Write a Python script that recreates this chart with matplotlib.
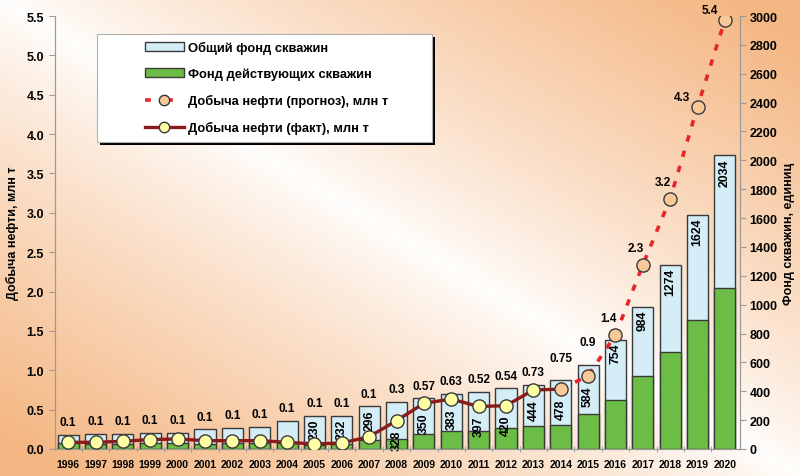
import numpy as np
import matplotlib
matplotlib.use("Agg")
import matplotlib.pyplot as plt
from matplotlib.lines import Line2D
from matplotlib.patches import Patch, Rectangle

plt.rcParams['font.family'] = ['Liberation Sans', 'DejaVu Sans']
plt.rcParams['font.weight'] = 'bold'

# --- data ---
years = list(range(1996, 2021))
wells_total = [97, 104, 104, 111, 111, 136, 148, 155, 194, 230, 232, 296, 328,
               350, 383, 397, 420, 444, 478, 584, 754, 984, 1274, 1624, 2034]
wells_active = [40, 38, 38, 40, 40, 38, 40, 42, 40, 30, 32, 62, 70,
                104, 122, 127, 145, 159, 166, 242, 342, 503, 670, 891, 1113]
first_bar_label_year = 2005

fact_years = list(range(1996, 2015))
oil_fact = [0.085, 0.085, 0.098, 0.12, 0.127, 0.106, 0.106, 0.106, 0.085, 0.064,
            0.076, 0.156, 0.36, 0.58, 0.635, 0.54, 0.55, 0.75, 0.76]
fact_labels = ['0.1'] * 12 + ['0.3', '0.57', '0.63', '0.52', '0.54', '0.73']

fc_years = list(range(2014, 2021))
oil_forecast = [0.76, 0.93, 1.45, 2.34, 3.18, 4.35, 5.45]
fc_labels = ['0.75', '0.9', '1.4', '2.3', '3.2', '4.3', '5.4']

c_total = '#d4edf6'
c_active = '#6cbd45'
c_edge = '#3a3a3a'
c_fact = '#8b1a1a'
c_fc = '#e8262a'
c_ylw = '#ffffa6'
c_peach = '#f8c898'
c_axis = '#9a9a9a'

fig = plt.figure(figsize=(8, 4.77), dpi=100)

# background gradient: white along the top-left/bottom-right diagonal, orange in the corners
bg = fig.add_axes([0, 0, 1, 1], zorder=-10)
gx, gy = np.meshgrid(np.linspace(0, 1, 400), np.linspace(1, 0, 240))
d = np.clip(np.abs(gx + gy - 1.0) * 1.1, 0, 1) ** 0.85
white = np.array([1.0, 0.995, 0.99])
orange = np.array([0.96, 0.72, 0.52])
img = white[None, None, :] * (1 - d[..., None]) + orange[None, None, :] * d[..., None]
bg.imshow(img, extent=[0, 1, 0, 1], aspect='auto')
bg.axis('off')

ax = fig.add_axes([55 / 800, 27 / 477, 685 / 800, 433 / 477])
ax.patch.set_alpha(0)
x = np.arange(len(years))
ax.bar(x, wells_total, width=0.77, color=c_total, edgecolor=c_edge, linewidth=1, zorder=2)
ax.bar(x, wells_active, width=0.77, color=c_active, edgecolor=c_edge, linewidth=1, zorder=3)
ax.set_ylim(0, 3000)
ax.set_xlim(-0.48, len(years) - 0.45)

ax2 = ax.twinx()
# twinx moves the host ticks to the left, so swap them back
ax.yaxis.tick_right()
ax.yaxis.set_label_position('right')
ax2.yaxis.tick_left()
ax2.yaxis.set_label_position('left')

ax.set_yticks(range(0, 3001, 200))
ax.set_ylabel('Фонд скважин, единиц', fontsize=9, fontweight='bold', rotation=90, labelpad=4)
ax2.set_ylim(0, 5.5)
ax2.set_yticks(np.arange(0, 5.51, 0.5))
ax2.set_yticklabels(['%.1f' % v for v in np.arange(0, 5.51, 0.5)])
ax2.set_ylabel('Добыча нефти, млн т', fontsize=9, fontweight='bold', labelpad=5)

for a in (ax, ax2):
    a.spines['top'].set_visible(False)
    for s in ('left', 'right', 'bottom'):
        a.spines[s].set_color(c_axis)
ax.tick_params(axis='y', direction='out', length=4, color=c_axis, labelsize=9, pad=3)
ax2.tick_params(axis='y', direction='out', length=4, color=c_axis, labelsize=9, pad=4)
ax.set_xticks(x)
ax.set_xticklabels([str(y) for y in years], fontsize=7.5, fontweight='bold')
ax.tick_params(axis='x', which='major', length=0, pad=7)
ax.set_xticks(x[:-1] + 0.5, minor=True)
ax.tick_params(axis='x', which='minor', direction='inout', length=4, color=c_axis)

fx = [years.index(y) for y in fact_years]
ax2.plot(fx, oil_fact, color=c_fact, lw=2.4, marker='o', ms=9.5, mfc=c_ylw, mec=c_edge,
         mew=1, markevery=list(range(len(oil_fact) - 1)), zorder=5)
px = [years.index(y) for y in fc_years]
ax2.plot(px, oil_forecast, color=c_fc, lw=2.6, ls=(0, (1.8, 2.6)), marker='o', ms=9.5,
         mfc=c_peach, mec=c_edge, mew=1, zorder=6)

# value labels for production
scale = 5.5 / 3000
for i, lab in enumerate(fact_labels):
    ax2.annotate(lab, (i, wells_total[i] * scale), xytext=(0, 9), textcoords='offset points',
                 ha='center', va='center', fontsize=8.5, fontweight='bold', zorder=7)
for j, lab in enumerate(fc_labels):
    i = px[j]
    if fc_years[j] <= 2015:
        ax2.annotate(lab, (i, wells_total[i] * scale), xytext=(0, 16), textcoords='offset points',
                     ha='center', va='center', fontsize=8.5, fontweight='bold', zorder=7)
    else:
        off = (-5, 12) if oil_forecast[j] < 4 else (-11, 7)
        ax2.annotate(lab, (i, oil_forecast[j]), xytext=off, textcoords='offset points',
                     ha='center', va='center', fontsize=8.5, fontweight='bold', zorder=7)

# vertical labels inside the bars
oil_all = dict(zip(fact_years, oil_fact))
oil_all.update(dict(zip(fc_years, oil_forecast)))
for i, y in enumerate(years):
    if y < first_bar_label_year:
        continue
    top = wells_total[i]
    prod_r = oil_all.get(y, 0) / scale
    if 0 <= top - prod_r < 140:
        top = prod_r - 45
    ax.annotate(str(wells_total[i]), (i, top), xytext=(0, -2), textcoords='offset points',
                rotation=90, ha='center', va='top', fontsize=8.8, fontweight='bold', zorder=4)

# legend box with black shadow
box = dict(x0=(97 - 55) / 685, y0=(450 - 143) / 433, w=(432 - 97) / 685, h=(143 - 35) / 433)
ax2.add_patch(Rectangle((box['x0'] + 0.004, box['y0'] - 0.007), box['w'], box['h'],
                        transform=ax2.transAxes, facecolor='black', edgecolor='none', zorder=8))
ax2.add_patch(Rectangle((box['x0'], box['y0']), box['w'], box['h'], transform=ax2.transAxes,
                        facecolor='white', edgecolor='#b0b0b0', lw=0.8, zorder=9))
handles = [
    Patch(facecolor=c_total, edgecolor=c_edge, lw=1),
    Patch(facecolor=c_active, edgecolor=c_edge, lw=1),
    Line2D([], [], color=c_fc, lw=2.6, ls=(0, (1.6, 4.5)), marker='o', ms=7.5, mfc=c_peach, mec=c_edge),
    Line2D([], [], color=c_fact, lw=2.4, marker='o', ms=7.5, mfc=c_ylw, mec=c_edge),
]
names = ['Общий фонд скважин', 'Фонд действующих скважин',
         'Добыча нефти (прогноз), млн т', 'Добыча нефти (факт), млн т']
leg = ax2.legend(handles, names, loc='upper left', bbox_to_anchor=((145 - 55) / 685, (450 - 42) / 433),
                 frameon=False, handlelength=3.0, handletextpad=0.3,
                 labelspacing=1.08, borderpad=0, borderaxespad=0, prop={'weight': 'bold', 'size': 9.3})
leg.set_zorder(10)

fig.savefig('out.png', dpi=100)
